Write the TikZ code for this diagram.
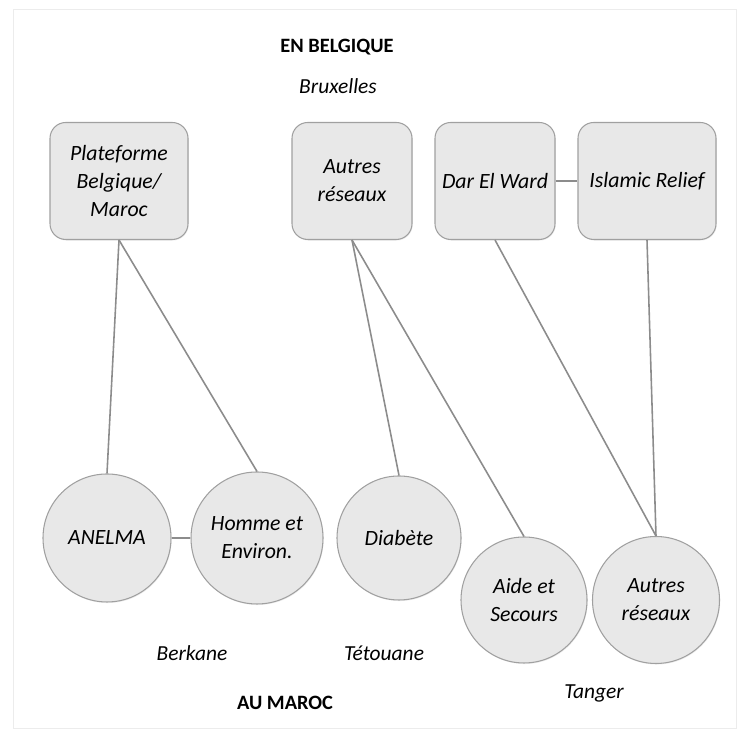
\documentclass[tikz,border=0pt]{standalone}
\usepackage{fontspec}
\setmainfont{Carlito}
\usepackage{xcolor}
\usetikzlibrary{shadows}

\definecolor{boxfill}{RGB}{232,232,232}
\definecolor{boxline}{RGB}{160,160,160}
\definecolor{linkline}{RGB}{140,140,140}

\tikzset{
	orgbox/.style={shape=rectangle, draw=boxline, fill=boxfill, rounded corners=9pt,
		line width=0.6pt, minimum height=2.34cm, align=center,
		font=\fontsize{12.4}{16}\selectfont\itshape,
		drop shadow={opacity=0.15, shadow xshift=0.4pt, shadow yshift=-0.6pt}},
	orgcircle/.style={shape=circle, draw=boxline, fill=boxfill, inner sep=0pt,
		line width=0.6pt, align=center,
		font=\fontsize{12.4}{16}\selectfont\itshape,
		drop shadow={opacity=0.15, shadow xshift=0.4pt, shadow yshift=-0.6pt}},
	place/.style={font=\fontsize{12.2}{15}\selectfont\itshape},
	region/.style={font=\fontsize{11.6}{14}\selectfont\bfseries},
	link/.style={draw=linkline, line width=0.9pt}
}

\begin{document}
\begin{tikzpicture}
	\useasboundingbox (0, 0) rectangle (14.78, 14.62);
	\draw[gray!15, line width=0.5pt] (0.26, 0.06) rectangle (14.72, 14.44);

	\node[region] (belgique) at (6.74, 13.68) {EN BELGIQUE};
	\node[place]  (bruxelles) at (6.76, 12.90) {Bruxelles};

	\node[orgbox, minimum width=2.76cm]
		(plateforme) at (2.38, 11.00) {Plateforme\\Belgique/\\Maroc};
	\node[orgbox, minimum width=2.40cm]
		(autresbe) at (7.04, 11.00) {Autres\\réseaux};
	\node[orgbox, minimum width=2.40cm]
		(darelward) at (9.90, 11.00) {Dar El Ward};
	\node[orgbox, minimum width=2.76cm]
		(islamic) at (12.94, 11.00) {Islamic Relief};

	\node[orgcircle, minimum size=2.56cm]
		(anelma) at (2.14, 3.86) {ANELMA};
	\node[orgcircle, minimum size=2.64cm]
		(homme) at (5.14, 3.86) {Homme et\\Environ.};
	\node[orgcircle, minimum size=2.48cm]
		(diabete) at (7.98, 3.86) {Diabète};
	\node[orgcircle, minimum size=2.52cm]
		(aide) at (10.48, 2.62) {Aide et\\Secours};
	\node[orgcircle, minimum size=2.54cm]
		(autresma) at (13.12, 2.62) {Autres\\réseaux};

	\node[place]  (berkane) at (3.84, 1.56) {Berkane};
	\node[place]  (tetouane) at (7.68, 1.56) {Tétouane};
	\node[place]  (tanger) at (11.88, 0.76) {Tanger};
	\node[region] (maroc) at (5.70, 0.56) {AU MAROC};

	\draw[link] (plateforme.south) -- (anelma.north);
	\draw[link] (plateforme.south) -- (homme.north);
	\draw[link] (autresbe.south)   -- (diabete.north);
	\draw[link] (autresbe.south)   -- (aide.north);
	\draw[link] (darelward.south)  -- (autresma.north);
	\draw[link] (islamic.south)    -- (autresma.north);
	\draw[link, line width=1.5pt] (darelward) -- (islamic);
	\draw[link, line width=1.5pt] (anelma) -- (homme);
\end{tikzpicture}
\end{document}
